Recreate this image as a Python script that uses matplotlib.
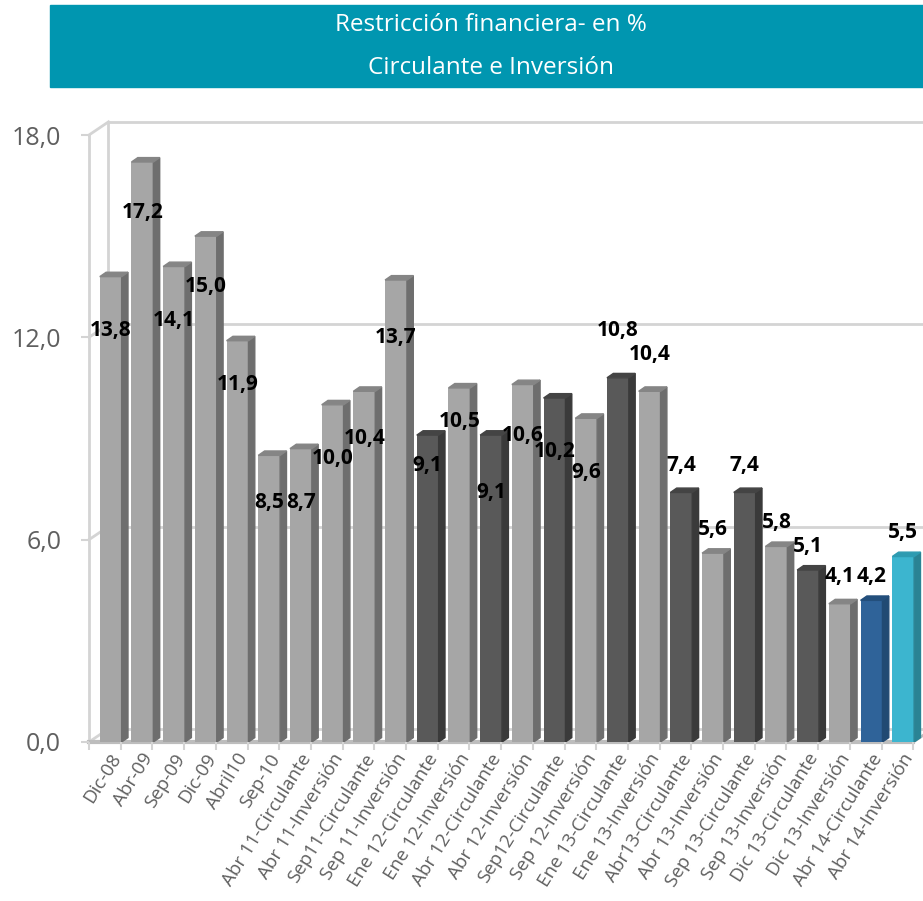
import numpy as np
import matplotlib
matplotlib.use("Agg")
import matplotlib.pyplot as plt
from matplotlib.patches import Polygon, Rectangle

# data
categorias = ["Dic-08", "Abr-09", "Sep-09", "Dic-09", "Abril10", "Sep-10",
              "Abr 11-Circulante", "Abr 11-Inversión", "Sep11-Circulante",
              "Sep 11-Inversión", "Ene 12-Circulante", "Ene 12-Inversión",
              "Abr 12-Circulante", "Abr 12-Inversión", "Sep12-Circulante",
              "Sep 12-Inversión", "Ene 13-Circulante", "Ene 13-Inversión",
              "Abr13-Circulante", "Abr 13-Inversión", "Sep 13-Circulante",
              "Sep 13-Inversión", "Dic 13-Circulante", "Dic 13-Inversión",
              "Abr 14-Circulante", "Abr 14-Inversión"]
valores = [13.8, 17.2, 14.1, 15.0, 11.9, 8.5, 8.7, 10.0, 10.4, 13.7,
           9.1, 10.5, 9.1, 10.6, 10.2, 9.6, 10.8, 10.4, 7.4, 5.6,
           7.4, 5.8, 5.1, 4.1, 4.2, 5.5]
# where Excel left each data label (y, in chart units)
etiqueta_y = [12.2, 15.7, 12.5, 13.5, 10.6, 7.1, 7.1, 8.4, 9.0, 12.0,
              8.2, 9.5, 7.4, 9.1, 8.6, 8.0, 12.2, 11.5, 8.2, 6.3,
              8.2, 6.5, 5.8, 4.9, 4.9, 6.2]
y_ticks = [0, 6, 12, 18]
y_tick_labels = ["0,0", "6,0", "12,0", "18,0"]

# colours: front, side, top
gris = ("#a6a6a6", "#6e6e6e", "#858585")
oscuro = ("#595959", "#3a3a3a", "#444444")
azul = ("#2f6399", "#214a73", "#234f7c")
celeste = ("#3cb5cf", "#2a8394", "#2e9bb1")
colores = [gris] * 10
for i in range(10, 24):
    colores.append(oscuro if i % 2 == 0 else gris)
colores += [azul, celeste]

W, H = 923, 901
fig = plt.figure(figsize=(W / 100, H / 100), dpi=100)

# title banner
fig.patches.append(Rectangle((50 / W, 1 - 87 / H), (W - 50) / W, 82 / H,
                             transform=fig.transFigure, color="#0096b0", zorder=0))
fig.text(491 / W, 1 - 25 / H, "Restricción financiera- en %", color="white",
         fontsize=17.5, family="Open Sans", ha="center", va="center")
fig.text(491 / W, 1 - 68 / H, "Circulante e Inversión", color="white",
         fontsize=17.5, family="Open Sans", ha="center", va="center")

ax = fig.add_axes([89 / W, (H - 742) / H, (W - 89) / W, 607 / H])
x0, x1 = -0.5, -0.5 + (W - 89) / 31.7
ax.set_xlim(x0, x1)
ax.set_ylim(0, 18)
for s in ax.spines.values():
    s.set_visible(False)

# 3d walls
ddx, ddy = 0.615, 0.39
wall = "#d4d4d4"
for t in y_ticks:
    ax.plot([x0 + ddx, x1 + 1], [t + ddy, t + ddy], color=wall, lw=2, zorder=1, clip_on=False)
    ax.plot([x0, x0 + ddx], [t, t + ddy], color=wall, lw=2, zorder=1, clip_on=False)
ax.plot([x0, x0], [0, 18], color=wall, lw=2, zorder=1, clip_on=False)
ax.plot([x0 + ddx, x0 + ddx], [ddy, 18 + ddy], color=wall, lw=2, zorder=1, clip_on=False)
ax.plot([x0, 25.5], [0, 0], color="#bdbdbd", lw=3, zorder=1, clip_on=False)
ax.plot([25.5, 25.5 + ddx], [0, ddy], color="#bdbdbd", lw=2, zorder=1, clip_on=False)

# bars
x = np.arange(len(valores)) + 0.185
ancho = 0.69
bdx, bdy = 0.2, 0.13
bars = ax.bar(x, valores, width=ancho, color=[c[0] for c in colores], zorder=3)
for xi, v, c in zip(x, valores, colores):
    l, r = xi - ancho / 2, xi + ancho / 2
    ax.add_patch(Polygon([(r, 0), (r + bdx, bdy), (r + bdx, v + bdy), (r, v)],
                         closed=True, color=c[1], zorder=3))
    ax.add_patch(Polygon([(l, v), (l + bdx, v + bdy), (r + bdx, v + bdy), (r, v)],
                         closed=True, color=c[2], zorder=3))

for xi, v, yl in zip(x, valores, etiqueta_y):
    ax.text(xi, yl, f"{v:.1f}".replace(".", ","), ha="center", va="center",
            fontsize=15, fontweight="bold", family="Open Sans", color="black", zorder=5)

# axes ticks
ax.set_yticks(y_ticks)
ax.set_yticklabels(y_tick_labels, family="Open Sans", fontsize=18, color="#5f5f5f")
ax.tick_params(axis="y", length=6, width=1.5, color=wall, pad=14)
ax.set_xticks(np.arange(len(categorias)) + 0.15)
ax.set_xticklabels(categorias, rotation=58, ha="right", va="top", rotation_mode="anchor",
                   family="Open Sans", fontsize=13.5, color="#5f5f5f")
ax.tick_params(axis="x", length=0, pad=6)
ax.set_xticks(np.arange(len(categorias) + 1) - 0.5, minor=True)
ax.tick_params(axis="x", which="minor", length=6, width=1.5, color=wall)

fig.savefig("out.png", dpi=100)
